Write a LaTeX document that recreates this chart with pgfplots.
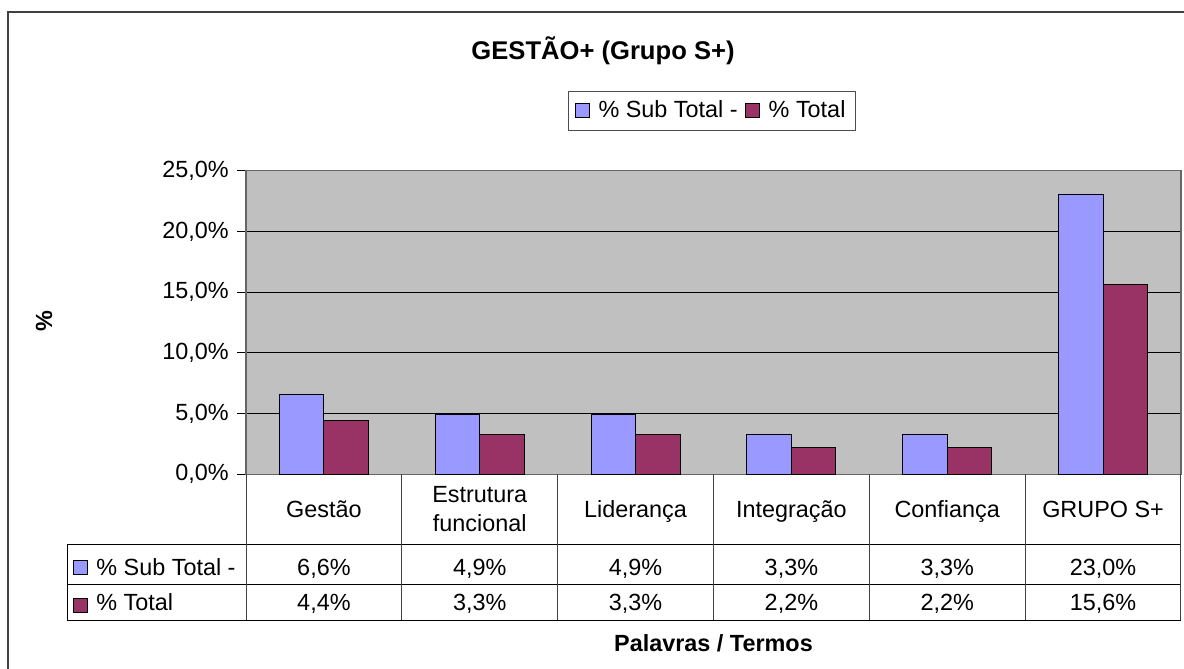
\documentclass[border=0pt]{standalone}
\usepackage{pgfplots}
\pgfplotsset{compat=1.18}
\usepackage{pgfplotstable}
\usepackage{fontspec}
\setmainfont{Liberation Sans}
\definecolor{subc}{HTML}{9999FF}
\definecolor{totc}{HTML}{993366}
\definecolor{plotbg}{HTML}{C0C0C0}
\pgfplotstableread{
x sub tot
0 6.6 4.4
1 4.9 3.3
2 4.9 3.3
3 3.3 2.2
4 3.3 2.2
5 23.0 15.6
}\datatable
\pgfkeys{/pgf/number format/.cd,use comma,fixed,fixed zerofill,precision=1,assume math mode=true}
\newcommand{\basefont}{\fontsize{11.7}{14}\selectfont}
\begin{document}
\basefont
\begin{tikzpicture}[x=0.5pt,y=-0.5pt,font=\basefont]
\path[use as bounding box] (0,0) rectangle (1184,669);
\draw[black!75, line width=0.85pt] (8,669) -- (8,12) -- (1184,12);
\begin{axis}[
  at={(123pt,-237.15pt)}, anchor=south west,
  scale only axis, width=467.5pt, height=151.8pt,
  xmin=-0.5, xmax=5.5, ymin=0, ymax=25,
  xtick=\empty,
  ytick={0,5,10,15,20,25},
  yticklabel={\pgfmathprintnumber{\tick}\%},
  ytick pos=left,
  tick align=outside, major tick length=4.5pt,
  every tick label/.append style={font=\basefont},
  ymajorgrids, major grid style={black, line width=0.5pt},
  axis background/.style={fill=plotbg},
  axis line style={black!60, line width=0.6pt},
  tick style={black, line width=0.6pt},
  ybar=0pt, bar width=22.25pt,
  legend columns=2,
  legend style={at={(0.4984,1.197)}, anchor=center, draw=black!70, fill=white,
    line width=0.5pt, inner xsep=3pt, inner ysep=2.75pt, nodes={inner sep=2pt},
    /tikz/every odd column/.append style={column sep=2.5pt},
    /tikz/every even column/.append style={column sep=1.5pt}, font=\basefont},
  legend image code/.code={\draw[#1] (0pt,-3.5pt) rectangle (7pt,3.5pt);},
  clip=false,
]
\addplot[fill=subc, draw=black, line width=0.5pt] table[x=x,y=sub]{\datatable};
\addplot[fill=totc, draw=black, line width=0.5pt] table[x=x,y=tot]{\datatable};
\legend{\% Sub Total -,\% Total}
\end{axis}
% data table grid
\draw[black, line width=0.5pt] (67.3,544.3) -- (1181,544.3) (67.3,584.7) -- (1181,584.7) (67.3,620) -- (1181,620) (67.3,544.3) -- (67.3,620);
\foreach \k in {0,...,6} \draw[black!75, line width=0.5pt] ({246+155.83*\k},474.3) -- ({246+155.83*\k},620);
\foreach \i/\lab in {0/Gestão,2/Liderança,3/Integração,4/Confiança,5/GRUPO S+}{
  \node[anchor=base, inner sep=0pt] at ({246+155.83*(\i+0.5)},517) {\lab};
}
\node[anchor=base, inner sep=0pt] at ({246+155.83*1.5},502) {Estrutura};
\node[anchor=base, inner sep=0pt] at ({246+155.83*1.5},531.7) {funcional};
\foreach \i in {0,...,5}{
  \pgfplotstablegetelem{\i}{sub}\of\datatable
  \node[anchor=base, inner sep=0pt] at ({246+155.83*(\i+0.5)},575) {\pgfmathprintnumber{\pgfplotsretval}\%};
  \pgfplotstablegetelem{\i}{tot}\of\datatable
  \node[anchor=base, inner sep=0pt] at ({246+155.83*(\i+0.5)},610.5) {\pgfmathprintnumber{\pgfplotsretval}\%};
}
\draw[fill=subc, line width=0.5pt] (73.5,560.5) rectangle (87.5,574.5);
\draw[fill=totc, line width=0.5pt] (73.5,598) rectangle (87.5,612);
\node[anchor=base west, inner sep=0pt] at (96,575) {\% Sub Total -};
\node[anchor=base west, inner sep=0pt] at (96,610.5) {\% Total};
% titles
\node[font=\fontsize{12.8}{15}\selectfont\bfseries] at (603,51) {GESTÃO+ (Grupo S+)};
\node[font=\basefont\bfseries, rotate=90] at (44,321) {\%};
\node[font=\basefont\bfseries] at (713.5,643) {Palavras / Termos};
\end{tikzpicture}
\end{document}
